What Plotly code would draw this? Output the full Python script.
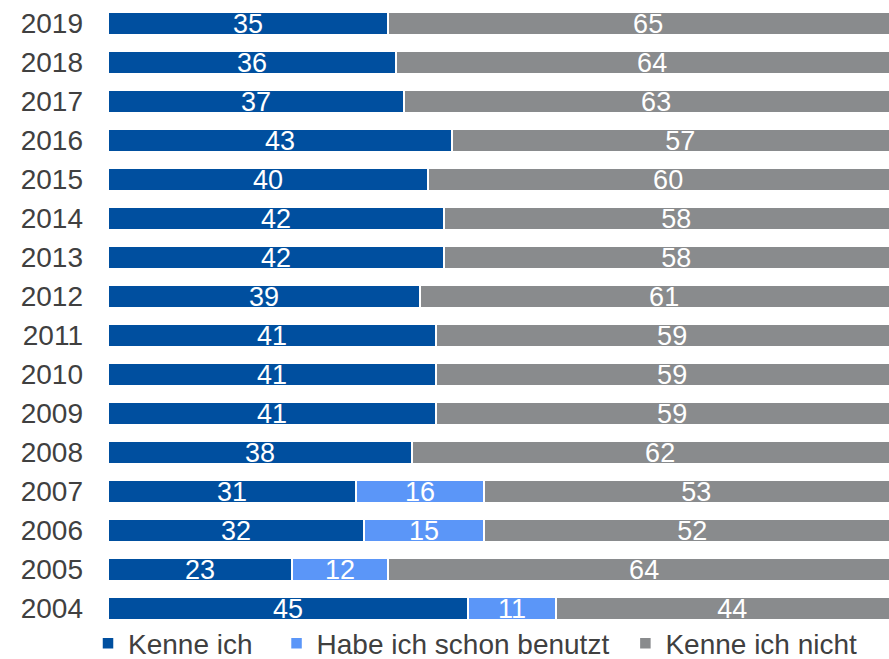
import plotly.graph_objects as go

years = [str(y) for y in range(2004, 2020)]
kenne_ich = [45, 23, 32, 31, 38, 41, 41, 41, 39, 42, 42, 40, 43, 37, 36, 35]
benutzt = [11, 12, 15, 16, None, None, None, None, None, None, None, None, None, None, None, None]
kenne_nicht = [44, 64, 52, 53, 62, 59, 59, 59, 61, 58, 58, 60, 57, 63, 64, 65]

NB = "\u00a0"
TH = "\u2009"
series = [
    ("Kenne ich" + NB + TH * 2, kenne_ich, "#004f9f"),
    ("Habe ich schon benutzt" + TH * 2, benutzt, "#5b96f8"),
    ("Kenne ich nicht", kenne_nicht, "#898b8d"),
]

FONT = "Liberation Sans, Arial, sans-serif"

fig = go.Figure()
for name, vals, col in series:
    fig.add_trace(go.Bar(
        y=years, x=vals, name=name, orientation="h",
        marker=dict(color=col, line=dict(color="white", width=1.5)),
        text=[("" if v is None else str(v)) for v in vals],
        textposition="inside", insidetextanchor="middle", textangle=0,
        textfont=dict(color="white", size=27, family=FONT),
        constraintext="none",
        hoverinfo="skip",
    ))

fig.update_layout(
    width=889, height=659,
    barmode="stack", bargap=0.4,
    margin=dict(l=108, r=0, t=4, b=31, autoexpand=False),
    plot_bgcolor="white", paper_bgcolor="white",
    font=dict(family=FONT, size=28, color="#404040"),
    xaxis=dict(range=[0, 97.6], visible=False, fixedrange=True, automargin=False),
    yaxis=dict(type="category", categoryorder="array", categoryarray=years,
               showgrid=False, zeroline=False, showline=False, ticks="",
               ticklabelstandoff=24, automargin=False, fixedrange=True,
               tickfont=dict(size=28, color="#404040", family=FONT)),
    showlegend=True,
    legend=dict(orientation="h", xref="paper", x=-0.0256, xanchor="left",
                yref="paper", y=-0.0649, yanchor="bottom",
                font=dict(size=28, color="#404040", family=FONT),
                itemclick=False, itemdoubleclick=False,
                traceorder="normal", bgcolor="rgba(0,0,0,0)"),
)

fig.write_html(
    "out.html",
    config={"displayModeBar": False},
    post_script="document.body.style.margin='0';document.body.style.overflow='hidden';",
)
